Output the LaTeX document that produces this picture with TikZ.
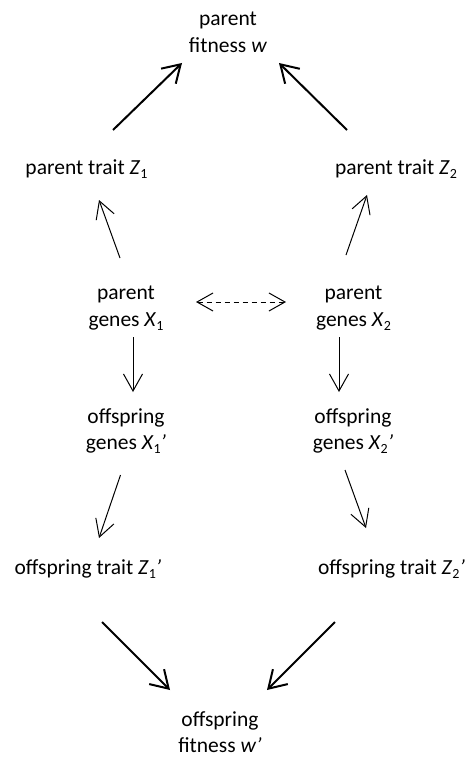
\documentclass[tikz,border=0pt]{standalone}
\usepackage{fontspec}
\setmainfont{Carlito}
\usetikzlibrary{arrows.meta}
% italic variable with a small upright lowered index
\newcommand{\pvar}[2]{\textit{#1}\raisebox{-0.2em}{\fontsize{14}{14}\selectfont #2}}
\begin{document}
\begin{tikzpicture}[x=1pt,y=-1pt,
  lbl/.style={font=\fontsize{21.5}{26.5}\selectfont, align=center, inner sep=0pt},
  thinarrow/.style={line width=1pt, -{Straight Barb[length=17pt,width=19pt]}},
  thickarrow/.style={line width=2pt, -{Straight Barb[length=17pt,width=21pt]}},
  linkarrow/.style={line width=1pt, dash pattern=on 5pt off 4pt,
    {Straight Barb[length=16pt,width=18pt]}-{Straight Barb[length=16pt,width=18pt]}}]
\useasboundingbox[fill=white] (0,0) rectangle (465,757);

% labels
\node[lbl] (pw) at (228,32.5) {parent\\fitness \textit{w}};
\node[lbl,anchor=base] (pz1) at (86.5,174) {parent trait \pvar{Z}{1}};
\node[lbl,anchor=base] (pz2) at (396,174) {parent trait \pvar{Z}{2}};
\node[lbl] (pg1) at (126,308.5) {parent\\genes \pvar{X}{1}};
\node[lbl] (pg2) at (353.5,308.5) {parent\\genes \pvar{X}{2}};
\node[lbl] (og1) at (126,431) {offspring\\genes \pvar{X}{1}\textit{’}};
\node[lbl] (og2) at (353,431) {offspring\\genes \pvar{X}{2}\textit{’}};
\node[lbl,anchor=base] (oz1) at (88,574) {offspring trait \pvar{Z}{1}\textit{’}};
\node[lbl,anchor=base] (oz2) at (391.5,574) {offspring trait \pvar{Z}{2}\textit{’}};
\node[lbl] (ow) at (220,732) {offspring\\fitness \textit{w}\textit{’}};

% arrow end points
\coordinate (tl0) at (113,130);   \coordinate (tl1) at (182,63);
\coordinate (tr0) at (347,130);   \coordinate (tr1) at (279,63);
\coordinate (ul0) at (120,258);   \coordinate (ul1) at (99,200);
\coordinate (ur0) at (346,255);   \coordinate (ur1) at (367,195);
\coordinate (dl0) at (196,302);   \coordinate (dl1) at (286,302);
\coordinate (gl0) at (133,337);   \coordinate (gl1) at (133,392);
\coordinate (gr0) at (339,337);   \coordinate (gr1) at (339,392);
\coordinate (ol0) at (120.5,475); \coordinate (ol1) at (99,538);
\coordinate (or0) at (345,470);   \coordinate (or1) at (366,528);
\coordinate (bl0) at (102,622);   \coordinate (bl1) at (170,690);
\coordinate (br0) at (335,622);   \coordinate (br1) at (267,690);

% connectors
\draw[thickarrow] (tl0) -- (tl1);
\draw[thickarrow] (tr0) -- (tr1);
\draw[thinarrow] (ul0) -- (ul1);
\draw[thinarrow] (ur0) -- (ur1);
\draw[linkarrow] (dl0) -- (dl1);
\draw[thinarrow] (gl0) -- (gl1);
\draw[thinarrow] (gr0) -- (gr1);
\draw[thinarrow] (ol0) -- (ol1);
\draw[thinarrow] (or0) -- (or1);
\draw[thickarrow] (bl0) -- (bl1);
\draw[thickarrow] (br0) -- (br1);
\end{tikzpicture}
\end{document}
